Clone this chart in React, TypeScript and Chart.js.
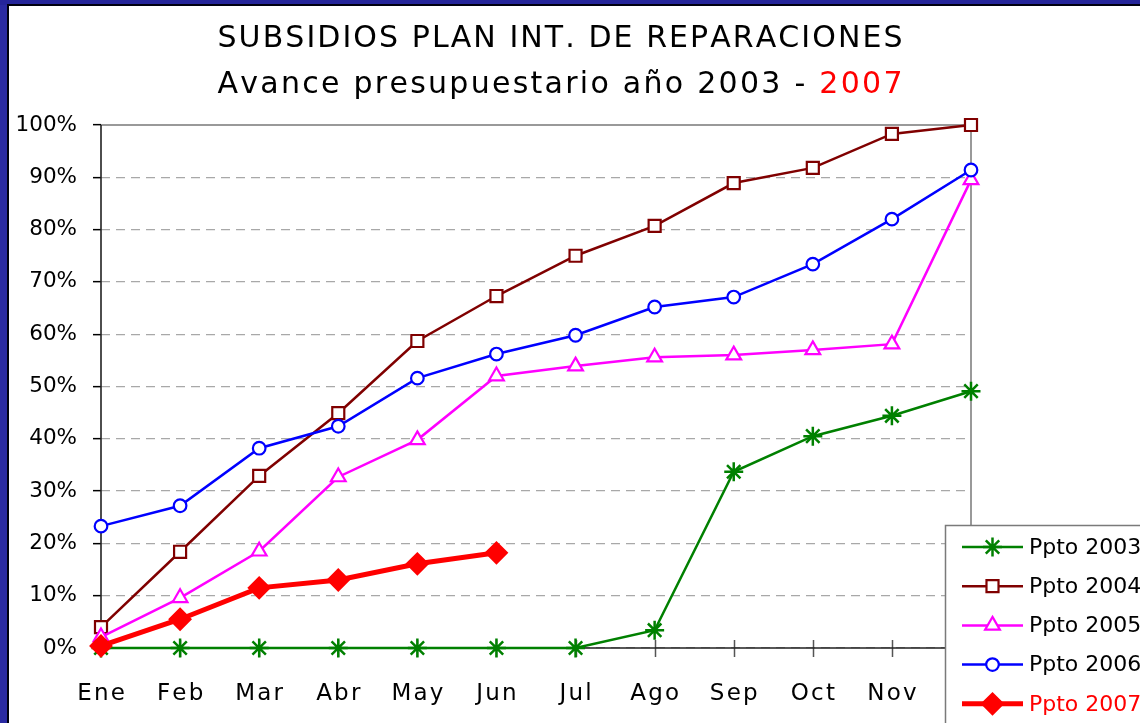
import React, { useEffect, useRef } from 'react';
import { Chart, registerables } from 'chart.js';

Chart.register(...registerables);

const months = ['Ene', 'Feb', 'Mar', 'Abr', 'May', 'Jun', 'Jul', 'Ago', 'Sep', 'Oct', 'Nov', 'Dic'];
const ppto2003 = [0, 0, 0, 0, 0, 0, 0, 3.4, 33.7, 40.5, 44.4, 49.1];
const ppto2004 = [4, 18.4, 32.9, 44.9, 58.7, 67.3, 75, 80.7, 88.9, 91.8, 98.3, 100];
const ppto2005 = [2.1, 9.6, 18.5, 32.7, 39.8, 52, 53.9, 55.6, 56, 57, 58.1, 89.5];
const ppto2006 = [23.3, 27.2, 38.2, 42.4, 51.6, 56.2, 59.8, 65.2, 67.1, 73.4, 82, 91.4];
const ppto2007 = [0.4, 5.5, 11.5, 13, 16.1, 18.2, null, null, null, null, null, null];
const seriesNames = ['Ppto 2003', 'Ppto 2004', 'Ppto 2005', 'Ppto 2006', 'Ppto 2007'];
const titleLine1 = 'SUBSIDIOS PLAN INT. DE REPARACIONES';
const titleLine2a = 'Avance presupuestario año 2003 - ';
const titleLine2b = '2007';

const FONT = '"DejaVu Sans", Verdana, sans-serif';

function spacedWidth(ctx: CanvasRenderingContext2D, text: string, ls: number) {
  const chars = Array.from(text);
  let w = 0;
  for (const c of chars) w += ctx.measureText(c).width;
  return w + ls * (chars.length - 1);
}
function drawSpaced(ctx: CanvasRenderingContext2D, text: string, x: number, y: number, ls: number) {
  for (const c of Array.from(text)) {
    ctx.fillText(c, x, y);
    x += ctx.measureText(c).width + ls;
  }
  return x;
}

function drawMarker(ctx: CanvasRenderingContext2D, style: string, x: number, y: number, r: number, fill: string, stroke: string, lw: number) {
  ctx.save();
  ctx.lineWidth = lw;
  ctx.strokeStyle = stroke;
  ctx.fillStyle = fill;
  ctx.beginPath();
  if (style === 'star') {
    ctx.moveTo(x, y - r); ctx.lineTo(x, y + r);
    ctx.moveTo(x - r, y); ctx.lineTo(x + r, y);
    const d = r * Math.SQRT1_2;
    ctx.moveTo(x - d, y - d); ctx.lineTo(x + d, y + d);
    ctx.moveTo(x - d, y + d); ctx.lineTo(x + d, y - d);
    ctx.stroke();
  } else if (style === 'rect') {
    const s = r * Math.SQRT1_2;
    ctx.rect(x - s, y - s, 2 * s, 2 * s);
    ctx.fill(); ctx.stroke();
  } else if (style === 'triangle') {
    for (let i = 0; i < 3; i++) {
      const a = (i * 2 * Math.PI) / 3;
      const px = x + Math.sin(a) * r, py = y - Math.cos(a) * r;
      if (i === 0) ctx.moveTo(px, py); else ctx.lineTo(px, py);
    }
    ctx.closePath(); ctx.fill(); ctx.stroke();
  } else if (style === 'circle') {
    ctx.arc(x, y, r, 0, Math.PI * 2);
    ctx.fill(); ctx.stroke();
  } else if (style === 'rectRot') {
    ctx.moveTo(x - r, y); ctx.lineTo(x, y - r); ctx.lineTo(x + r, y); ctx.lineTo(x, y + r);
    ctx.closePath(); ctx.fill(); ctx.stroke();
  }
  ctx.restore();
}

const decor = {
  id: 'decor',
  beforeDraw(chart: any) {
    const ctx: CanvasRenderingContext2D = chart.ctx;
    ctx.save();
    ctx.fillStyle = '#ffffff';
    ctx.fillRect(0, 0, chart.width, chart.height);
    ctx.fillStyle = '#2a2aa2';
    ctx.fillRect(0, 0, 8, chart.height);
    ctx.fillStyle = '#25259a';
    ctx.fillRect(0, 0, chart.width, 5);
    ctx.fillStyle = '#000010';
    ctx.fillRect(7, 4, 2, chart.height - 4);
    ctx.fillRect(7, 4, chart.width - 7, 2);

    // titles
    ctx.fillStyle = '#000';
    ctx.textBaseline = 'alphabetic';
    ctx.textAlign = 'left';
    ctx.font = '30px ' + FONT;
    const target = 685;
    const cx = 560;
    const n1 = Array.from(titleLine1).length;
    const ls1 = (target - spacedWidth(ctx, titleLine1, 0)) / (n1 - 1);
    drawSpaced(ctx, titleLine1, cx - target / 2, 47, ls1);
    const full = titleLine2a + titleLine2b;
    const n2 = Array.from(full).length;
    const ls2 = (target - spacedWidth(ctx, full, 0)) / (n2 - 1);
    let x = drawSpaced(ctx, titleLine2a, cx - target / 2, 93, ls2);
    ctx.fillStyle = '#ff0000';
    drawSpaced(ctx, titleLine2b, x, 93, ls2);
    ctx.restore();
  },
  beforeDatasetsDraw(chart: any) {
    const ctx: CanvasRenderingContext2D = chart.ctx;
    const a = chart.chartArea;
    const xs = chart.scales.x;
    ctx.save();
    // plot border top & right
    ctx.strokeStyle = '#999999';
    ctx.lineWidth = 2;
    ctx.beginPath();
    ctx.moveTo(a.left, a.top);
    ctx.lineTo(a.right, a.top);
    ctx.lineTo(a.right, a.bottom);
    ctx.stroke();
    // x tick marks
    ctx.strokeStyle = '#555555';
    ctx.lineWidth = 1.5;
    ctx.beginPath();
    for (let i = 1; i < months.length; i++) {
      const px = Math.round(xs.getPixelForValue(i)) + 0.5;
      ctx.moveTo(px, a.bottom - 8);
      ctx.lineTo(px, a.bottom + 9);
    }
    ctx.stroke();
    // axes
    ctx.strokeStyle = '#222222';
    ctx.lineWidth = 1.6;
    ctx.beginPath();
    ctx.moveTo(a.left, a.top);
    ctx.lineTo(a.left, a.bottom);
    ctx.lineTo(a.right, a.bottom);
    ctx.stroke();
    ctx.restore();
  },
  afterDraw(chart: any) {
    const ctx: CanvasRenderingContext2D = chart.ctx;
    const xs = chart.scales.x;
    ctx.save();
    // x labels
    ctx.fillStyle = '#000';
    ctx.font = '23px ' + FONT;
    ctx.textBaseline = 'alphabetic';
    ctx.textAlign = 'left';
    const ls = 2.2;
    months.forEach((m, i) => {
      const px = xs.getPixelForValue(i);
      const w = spacedWidth(ctx, m, ls);
      drawSpaced(ctx, m, px - w / 2, 700, ls);
    });
    // legend
    ctx.fillStyle = '#ffffff';
    ctx.strokeStyle = '#7a7a7a';
    ctx.lineWidth = 1.5;
    ctx.fillRect(945, 525, 300, 300);
    ctx.strokeRect(945.5, 525.5, 300, 300);
    ctx.font = '22px ' + FONT;
    ctx.textBaseline = 'middle';
    chart.data.datasets.forEach((ds: any, i: number) => {
      const y = 547 + i * 39.2;
      ctx.strokeStyle = ds.borderColor;
      ctx.lineWidth = ds.borderWidth;
      ctx.beginPath();
      ctx.moveTo(962, y);
      ctx.lineTo(1023, y);
      ctx.stroke();
      drawMarker(ctx, ds.pointStyle, 992.5, y, ds.pointRadius, ds.pointBackgroundColor, ds.pointBorderColor, ds.pointBorderWidth);
      ctx.fillStyle = i === 4 ? '#ff0000' : '#000000';
      ctx.fillText(ds.label, 1029, y + 1);
    });
    ctx.restore();
  },
};

export default function App() {
  const ref = useRef<HTMLCanvasElement | null>(null);
  useEffect(() => {
    document.body.style.margin = '0';
    document.body.style.overflow = 'hidden';
    const canvas = ref.current;
    if (!canvas) return;
    const mk = (label: string, data: any[], color: string, style: string, radius: number, fill: string, width: number, pbw: number, order: number) => ({
      label,
      data,
      borderColor: color,
      backgroundColor: color,
      borderWidth: width,
      pointStyle: style,
      pointRadius: radius,
      pointHoverRadius: radius,
      pointBackgroundColor: fill,
      pointBorderColor: color,
      pointBorderWidth: pbw,
      tension: 0,
      fill: false,
      clip: false,
      spanGaps: false,
      order,
    });
    const chart = new Chart(canvas, {
      type: 'line',
      data: {
        labels: months,
        datasets: [
          mk(seriesNames[0], ppto2003, '#008000', 'star', 9.5, '#008000', 2.5, 2.5, 4),
          mk(seriesNames[1], ppto2004, '#800000', 'rect', 8.5, '#ffffff', 2.5, 2.2, 3),
          mk(seriesNames[2], ppto2005, '#ff00ff', 'triangle', 8.5, '#ffffff', 2.5, 2.2, 2),
          mk(seriesNames[3], ppto2006, '#0000ff', 'circle', 6.3, '#ffffff', 2.5, 2.2, 1),
          mk(seriesNames[4], ppto2007, '#ff0000', 'rectRot', 10.5, '#ff0000', 5, 2, 0),
        ] as any,
      },
      options: {
        animation: false,
        responsive: false,
        maintainAspectRatio: false,
        events: [],
        layout: { padding: { left: 0, right: 169, top: 125, bottom: 0 } },
        plugins: {
          legend: { display: false },
          title: { display: false },
          tooltip: { enabled: false },
        },
        scales: {
          x: {
            type: 'category',
            offset: false,
            grid: { display: false },
            border: { display: false },
            ticks: { display: false },
            afterFit: (s: any) => { s.height = 75; },
          },
          y: {
            min: 0,
            max: 100,
            ticks: {
              stepSize: 10,
              callback: (v: any) => v + '%',
              color: '#000',
              font: { family: FONT, size: 21.5 },
              padding: 16,
            },
            grid: { color: '#a8a8a8', lineWidth: 1.3, tickColor: '#000', tickLength: 8, tickWidth: 1.5 },
            border: { display: false, dash: [9, 6] },
            afterFit: (s: any) => { s.width = 101; },
          },
        },
      } as any,
      plugins: [decor],
    });
    return () => chart.destroy();
  }, []);
  return (
    <div style={{ width: 1140, height: 723, overflow: 'hidden' }}>
      <canvas ref={ref} width={1140} height={723} style={{ display: 'block' }} />
    </div>
  );
}
